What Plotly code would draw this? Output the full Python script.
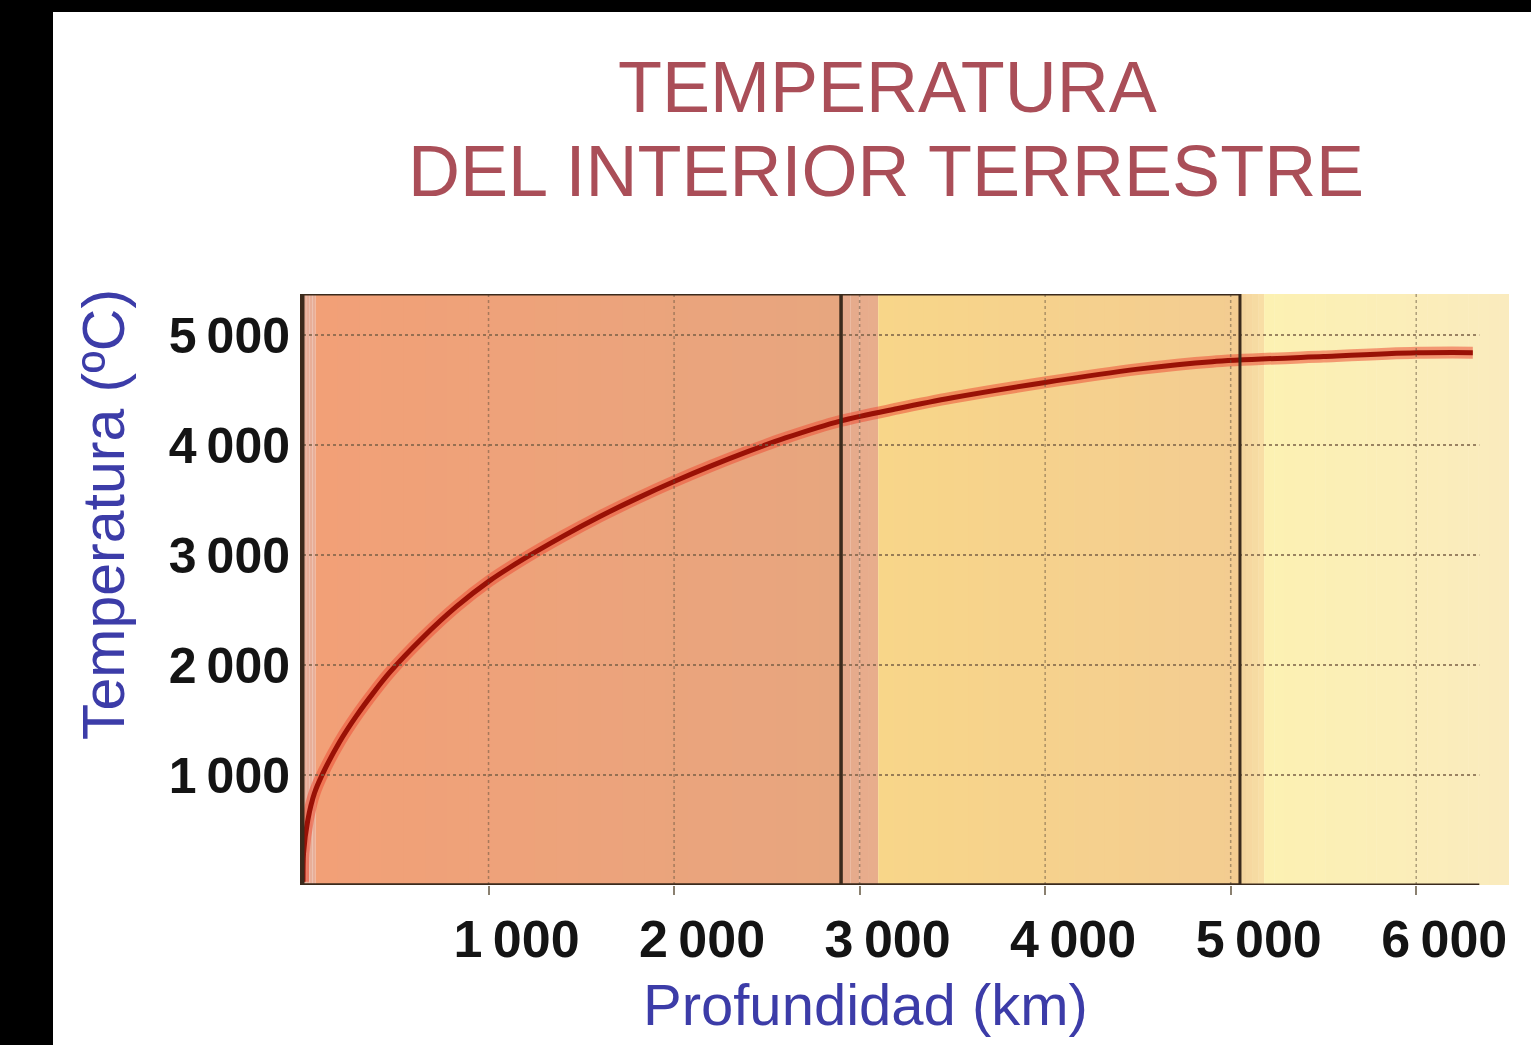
import plotly.graph_objects as go

# Temperature profile of the Earth's interior (depth in km, temperature in °C)
depth_km = [0, 3, 26, 62, 107, 197, 287, 376, 466, 646, 826, 1005, 1185,
            1400, 1600, 1800, 2000, 2200, 2400, 2600, 2900, 3200, 3500,
            4000, 4500, 4900, 5500, 6000, 6305]
temp_c = [30, 290, 590, 836, 1015, 1300, 1535, 1740, 1930, 2250, 2530, 2765, 2960,
          3170, 3350, 3515, 3668, 3810, 3942, 4064, 4220, 4330, 4430,
          4569, 4690, 4758, 4805, 4838, 4840]

# Layer bands along the depth axis: (start km, end km, left colour, right colour)
layer_start = [0, 68, 2900, 3100, 5050, 5180]
layer_end = [68, 2900, 3100, 5050, 5180, 6500]
layer_left = ["#E8AE98", "#F2A077", "#E5A98C", "#F8D689", "#F4D39C", "#FCF1B2"]
layer_right = ["#E8AE98", "#E7A67F", "#E9AE8C", "#F3CC91", "#F8E0A6", "#FAEBBE"]

# Framed sections (mantle and outer core)
frame_start = [0, 2900]
frame_end = [2900, 5050]

x_ticks = [1000, 2000, 3000, 4000, 5000, 6000]
y_ticks = [1000, 2000, 3000, 4000, 5000]
x_tick_text = [f"{v:,}".replace(",", "\u2009") for v in x_ticks]
y_tick_text = [f"{v:,}".replace(",", "\u2009") for v in y_ticks]

X_MAX = 6500
Y_MAX = 5373
AXIS_END = 6340

title_lines = ["TEMPERATURA", "DEL INTERIOR TERRESTRE"]
x_title = "Profundidad (km)"
y_title = "Temperatura (ºC)"

W, H = 1531, 1045
PL, PR, PT, PB = 303, 1509, 294, 885  # plot area in pixels


def px_x(p):
    return (p - PL) / (PR - PL)


def px_y(p):
    return (PB - p) / (PB - PT)


def hex_rgb(h):
    h = h.lstrip("#")
    return tuple(int(h[i:i + 2], 16) for i in (0, 2, 4))


def mix(c1, c2, t):
    a, b = hex_rgb(c1), hex_rgb(c2)
    return "rgb(%d,%d,%d)" % tuple(round(a[i] + (b[i] - a[i]) * t) for i in range(3))


FONT = "Liberation Sans, Arial, Helvetica, sans-serif"

shapes = []

# black border strips on the left and top of the page
shapes.append(dict(type="rect", xref="paper", yref="paper",
                   x0=px_x(0), x1=px_x(53), y0=px_y(H), y1=px_y(0),
                   fillcolor="black", line_width=0, layer="below"))
shapes.append(dict(type="rect", xref="paper", yref="paper",
                   x0=px_x(0), x1=px_x(W), y0=px_y(12), y1=px_y(0),
                   fillcolor="black", line_width=0, layer="below"))

# coloured layer bands, each as a soft left-to-right gradient
STEPS = 24
for s, e, cl, cr in zip(layer_start, layer_end, layer_left, layer_right):
    n = STEPS if e - s > 300 else 4
    for i in range(n):
        x0 = s + (e - s) * i / n
        x1 = s + (e - s) * (i + 1) / n
        shapes.append(dict(type="rect", xref="x", yref="y",
                           x0=x0, x1=x1 + (e - s) * 0.002, y0=0, y1=Y_MAX,
                           fillcolor=mix(cl, cr, (i + 0.5) / n),
                           line_width=0, layer="below"))

# dotted horizontal grid lines that stop at the end of the axis line
for v in y_ticks:
    shapes.append(dict(type="line", xref="x", yref="y",
                       x0=0, x1=AXIS_END, y0=v, y1=v,
                       line=dict(color="rgba(120,95,70,0.75)", width=2, dash="dot"),
                       layer="above"))

# vertical grid lines
for v in x_ticks:
    shapes.append(dict(type="line", xref="x", yref="y",
                       x0=v, x1=v, y0=0, y1=Y_MAX,
                       line=dict(color="rgba(95,80,60,0.5)", width=1.5, dash="dot"),
                       layer="above"))

# section frames
for s, e in zip(frame_start, frame_end):
    shapes.append(dict(type="rect", xref="x", yref="y",
                       x0=s, x1=e, y0=0, y1=Y_MAX,
                       line=dict(color="#3B2A1C", width=3),
                       fillcolor="rgba(0,0,0,0)", layer="above"))

# bottom axis line
shapes.append(dict(type="line", xref="x", yref="y",
                   x0=0, x1=AXIS_END, y0=0, y1=0,
                   line=dict(color="#3B2A1C", width=3), layer="above"))

fig = go.Figure()

# soft glow under the curve, then the curve itself
fig.add_trace(go.Scatter(x=depth_km, y=temp_c, mode="lines",
                         line=dict(color="rgba(236,80,55,0.55)", width=12, shape="spline",
                                   smoothing=0.8),
                         hoverinfo="skip", showlegend=False))
fig.add_trace(go.Scatter(x=depth_km, y=temp_c, mode="lines",
                         line=dict(color="#991106", width=5, shape="spline", smoothing=0.8),
                         showlegend=False))

annotations = [
    dict(text=title_lines[0], xref="paper", yref="paper",
         x=px_x(887), y=px_y(87), xanchor="center", yanchor="middle",
         showarrow=False, font=dict(family=FONT, size=72, color="#AA4E58")),
    dict(text=title_lines[1], xref="paper", yref="paper",
         x=px_x(886), y=px_y(171), xanchor="center", yanchor="middle",
         showarrow=False, font=dict(family=FONT, size=72, color="#AA4E58")),
    dict(text=x_title, xref="paper", yref="paper",
         x=px_x(865), y=px_y(1004), xanchor="center", yanchor="middle",
         showarrow=False, font=dict(family=FONT, size=58, color="#3C3CA8")),
    dict(text=y_title, xref="paper", yref="paper",
         x=px_x(104), y=px_y(515), xanchor="center", yanchor="middle",
         textangle=-90, showarrow=False,
         font=dict(family=FONT, size=59, color="#3C3CA8")),
]

fig.update_layout(
    width=W, height=H,
    margin=dict(l=PL, r=W - PR, t=PT, b=H - PB, pad=0),
    paper_bgcolor="white",
    plot_bgcolor="rgba(0,0,0,0)",
    shapes=shapes,
    annotations=annotations,
    showlegend=False,
    xaxis=dict(range=[0, X_MAX], tickvals=x_ticks, ticktext=x_tick_text,
               showgrid=False, zeroline=False, showline=False,
               ticks="outside", ticklen=9, tickwidth=2, tickcolor="#8A8070",
               ticklabelstandoff=0, ticklabelshift=28,
               tickfont=dict(family=FONT, size=52, color="#141414", weight="bold"),
               fixedrange=True),
    yaxis=dict(range=[0, Y_MAX], tickvals=y_ticks, ticktext=y_tick_text,
               showgrid=False, zeroline=False, showline=True,
               linecolor="#3B2A1C", linewidth=3,
               ticks="", ticklabelstandoff=0,
               tickfont=dict(family=FONT, size=50, color="#141414", weight="bold"),
               fixedrange=True),
)

fig.write_html("out.html")
